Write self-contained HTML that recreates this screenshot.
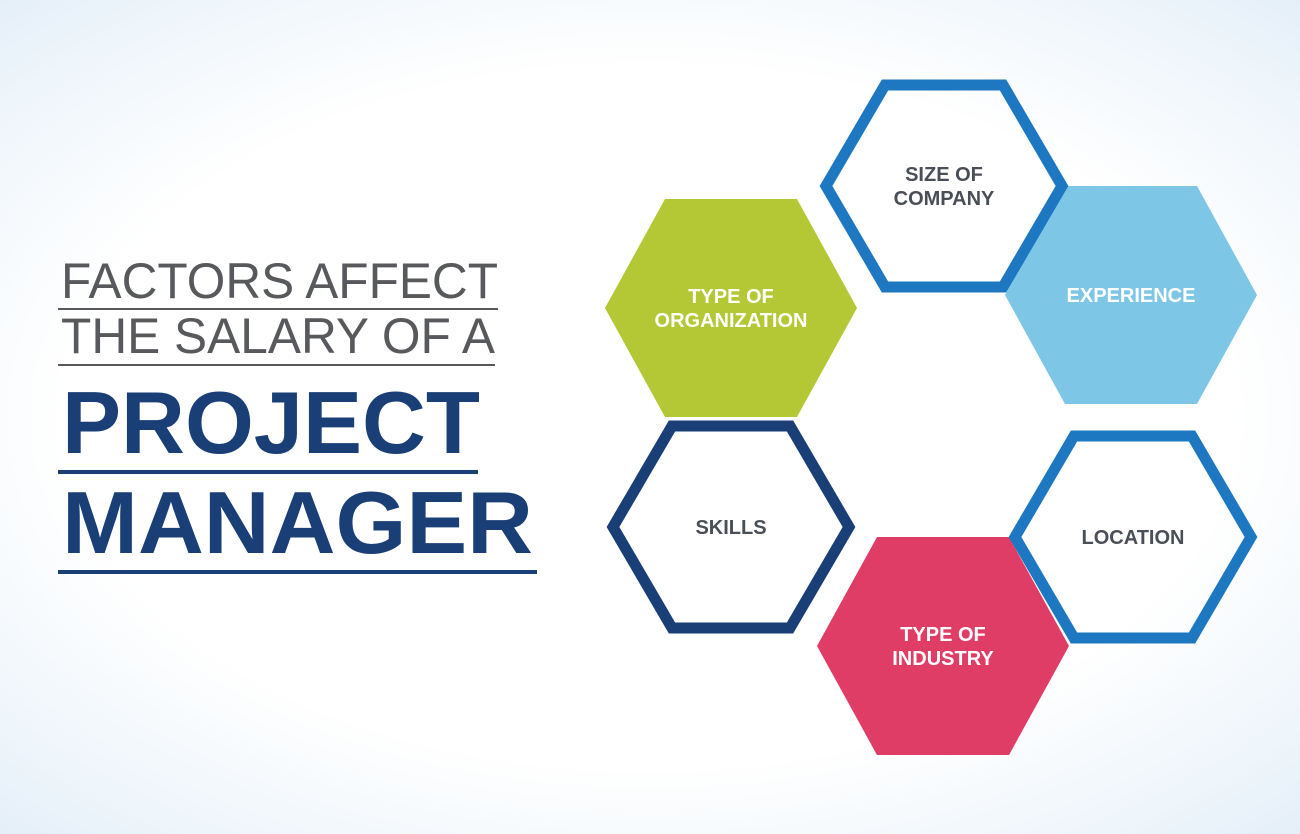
<!DOCTYPE html>
<html><head><meta charset="utf-8"><style>
html,body{margin:0;padding:0}
body{width:1300px;height:834px;overflow:hidden;background:radial-gradient(ellipse 75% 70% at 50% 50%,#ffffff 60%,#eef5fb 85%,#e3eef8 100%)}
svg{display:block}
</style></head><body>
<svg width="1300" height="834" viewBox="0 0 1300 834" font-family="Liberation Sans, sans-serif">
<g>
<text x="61" y="298" font-size="50" fill="#58595d" textLength="437" lengthAdjust="spacingAndGlyphs">FACTORS AFFECT</text>
<rect x="58" y="308" width="440" height="2" fill="#58595d"/>
<text x="61" y="353" font-size="50" fill="#58595d" textLength="434" lengthAdjust="spacingAndGlyphs">THE SALARY OF A</text>
<rect x="58" y="364" width="437" height="2" fill="#58595d"/>
<text x="62" y="453" font-size="88" font-weight="bold" fill="#1a3f77" textLength="418" lengthAdjust="spacingAndGlyphs">PROJECT</text>
<rect x="58" y="470" width="420" height="4" fill="#1a3f77"/>
<text x="62" y="553" font-size="88" font-weight="bold" fill="#1a3f77" textLength="471" lengthAdjust="spacingAndGlyphs">MANAGER</text>
<rect x="58" y="570" width="479" height="4" fill="#1a3f77"/>
</g>
<g id="hexes"></g>
</svg>
<script>
const hexNames=['experience','type-of-organization','type-of-industry','size-of-company','skills','location'];
const hexLabels=[['EXPERIENCE'],['TYPE OF','ORGANIZATION'],['TYPE OF','INDUSTRY'],['SIZE OF','COMPANY'],['SKILLS'],['LOCATION']];
const hexCenters=[[1131,295],[731,308],[943,646],[944,186],[731,527],[1133,537]];
const hexFill=['#7ec6e6','#b4c836','#e03d66','none','none','none'];
const hexStroke=[null,null,null,'#1d78c1','#1a3f77','#1d78c1'];
const textColor=['#ffffff','#ffffff','#ffffff','#4a4f57','#4a4f57','#4a4f57'];
const NS='http://www.w3.org/2000/svg';
const g=document.getElementById('hexes');
hexCenters.forEach((c,i)=>{
  const [cx,cy]=c;const stroked=hexStroke[i]!==null;
  const rx=stroked?118:126, hx=stroked?59:66, ry=stroked?101:109;
  const pts=[[cx-rx,cy],[cx-hx,cy-ry],[cx+hx,cy-ry],[cx+rx,cy],[cx+hx,cy+ry],[cx-hx,cy+ry]].map(p=>p.join(',')).join(' ');
  const grp=document.createElementNS(NS,'g');
  
  
  const p=document.createElementNS(NS,'polygon');
  
  
  p.setAttribute('points',pts);
  if(stroked){p.setAttribute('fill','none');p.setAttribute('stroke',hexStroke[i]);p.setAttribute('stroke-width','11');p.setAttribute('stroke-linejoin','miter');}
  else p.setAttribute('fill',hexFill[i]);
  grp.appendChild(p);
  const lines=hexLabels[i];
  lines.forEach((l,j)=>{
    const t=document.createElementNS(NS,'text');
    
    
    t.setAttribute('x',cx);
    t.setAttribute('y',cy+7+(j-(lines.length-1)/2)*24);
    t.setAttribute('text-anchor','middle');
    t.setAttribute('font-size','20');
    t.setAttribute('font-weight','bold');
    t.setAttribute('fill',textColor[i]);
    t.textContent=l;
    grp.appendChild(t);
  });
  g.appendChild(grp);
});
</script>
</body></html>
